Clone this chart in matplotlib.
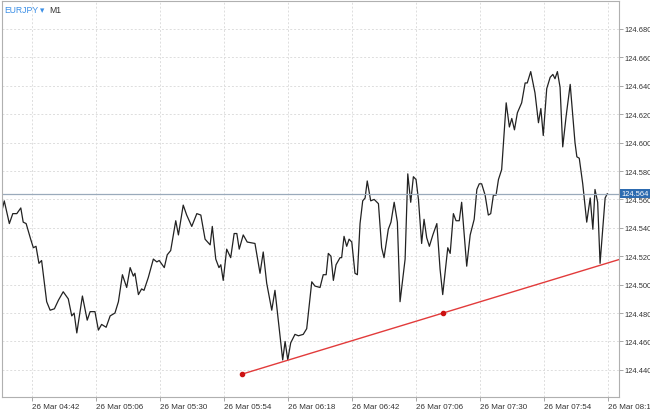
import matplotlib
matplotlib.use("Agg")
import matplotlib.pyplot as plt

plt.rcParams['font.family'] = ['Liberation Sans', 'DejaVu Sans']

# time in minutes since 00:00 on 26 Mar
times = [270.6,271.6,273.5,274.8,276.3,277.8,278.7,279.8,281.5,282.5,283.5,284.6,285.6,287.5,288.8,290.4,291.9,293.7,295.6,296.9,297.8,298.8,300.9,302.7,303.8,305.6,306.9,308.1,309.8,311.3,313.1,314.4,315.9,317.5,318.8,320.0,320.6,321.9,323.1,324.0,325.6,327.5,328.8,329.7,
         331.6,332.7,334.0,335.9,336.9,338.7,340.0,341.9,343.8,345.3,346.9,348.8,349.6,350.9,352.1,352.8,353.7,355.0,356.5,357.8,358.8,359.7,361.2,362.7,365.6,367.5,368.7,370.0,371.9,373.1,374.4,376.0,376.9,377.9,379.0,380.6,381.9,383.7,385.0,386.9,388.1,390.0,
         391.2,392.3,393.1,394.1,395.0,396.0,397.5,398.1,399.0,400.0,400.9,401.9,403.1,404.0,405.0,406.0,406.9,407.7,409.0,410.3,411.9,413.1,414.0,415.6,416.6,417.8,419.0,420.0,421.9,422.9,424.0,425.0,426.0,426.9,428.1,429.0,430.0,431.0,432.3,433.8,435.0,436.0,437.9,438.8,440.0,441.0,442.2,443.1,445.0,446.3,447.8,448.8,449.7,
         450.6,451.9,453.1,454.0,455.0,456.0,456.9,458.1,459.8,461.0,461.9,462.9,464.0,465.6,466.9,467.7,469.0,470.6,471.9,472.8,473.7,475.0,476.3,477.3,478.1,479.0,480.0,481.0,482.3,483.8,485.6,486.3,487.2,488.5,490.0,491.3,492.3,493.1,494.1,495.0,496.9,497.7]
prices = [124.551,124.559,124.543,124.550,124.550,124.554,124.544,124.543,124.532,124.526,124.527,124.515,124.517,124.488,124.482,124.483,124.489,124.495,124.490,124.478,124.480,124.466,124.492,124.475,124.481,124.481,124.468,124.472,124.470,124.478,124.480,124.488,124.507,124.498,124.512,124.506,124.508,124.493,124.497,124.496,124.505,124.518,124.516,124.517,
          124.512,124.521,124.524,124.545,124.535,124.556,124.549,124.541,124.550,124.549,124.532,124.528,124.541,124.518,124.512,124.514,124.503,124.525,124.519,124.536,124.536,124.525,124.535,124.530,124.529,124.508,124.523,124.501,124.482,124.496,124.474,124.447,124.460,124.447,124.459,124.465,124.464,124.465,124.469,124.502,124.499,124.498,
          124.507,124.507,124.522,124.520,124.503,124.514,124.519,124.519,124.534,124.527,124.532,124.530,124.508,124.507,124.543,124.559,124.561,124.573,124.559,124.560,124.557,124.526,124.519,124.539,124.544,124.558,124.544,124.488,124.518,124.578,124.558,124.576,124.574,124.560,124.529,124.546,124.533,124.527,124.535,124.543,124.511,124.493,124.526,124.522,124.550,124.545,124.545,124.558,124.513,124.535,124.546,124.567,124.571,
          124.571,124.563,124.549,124.550,124.563,124.563,124.574,124.581,124.628,124.611,124.617,124.609,124.621,124.628,124.642,124.642,124.650,124.635,124.614,124.624,124.605,124.638,124.646,124.648,124.645,124.650,124.639,124.597,124.619,124.641,124.600,124.590,124.589,124.571,124.544,124.561,124.539,124.567,124.558,124.515,124.561,124.564]

last_price = 124.564
trend_times = [360.75, 436.1]
trend_prices = [124.437, 124.480]
xtick_minutes = [282, 306, 330, 354, 378, 402, 426, 450, 474, 498]
xtick_labels = ["26 Mar 04:42", "26 Mar 05:06", "26 Mar 05:30", "26 Mar 05:54", "26 Mar 06:18",
                "26 Mar 06:42", "26 Mar 07:06", "26 Mar 07:30", "26 Mar 07:54", "26 Mar 08:18"]
ytick_values = [124.44, 124.46, 124.48, 124.50, 124.52, 124.54, 124.56, 124.58, 124.60, 124.62, 124.64, 124.66, 124.68]

W, H = 650, 410
fig = plt.figure(figsize=(6.5, 4.1), dpi=100)
ax = fig.add_axes([2/W, 12/H, 617/W, 396/H])
xmin, xmax = 270.75, 502.1
ax.set_xlim(xmin, xmax)
ax.set_ylim(124.4209, 124.6997)

ax.grid(True, color="#dddddd", linestyle=(0, (2, 2)), linewidth=0.7)
ax.set_axisbelow(True)
for s in ax.spines.values():
    s.set_color("#b0b0b0")
    s.set_linewidth(0.8)

ax.plot(times, prices, color="#222222", linewidth=0.9)
ax.axhline(last_price, color="#9aaabb", linewidth=0.9)

slope = (trend_prices[1] - trend_prices[0]) / (trend_times[1] - trend_times[0])
ax.plot([trend_times[0], xmax], [trend_prices[0], trend_prices[0] + slope * (xmax - trend_times[0])],
        color="#e23b3b", linewidth=1.0)
ax.plot(trend_times, trend_prices, "o", color="#cc1111", markersize=3)

ax.yaxis.tick_right()
ax.set_yticks(ytick_values)
ax.set_yticklabels([f"{v:.3f}" for v in ytick_values])
ax.set_xticks(xtick_minutes)
ax.set_xticklabels(xtick_labels, ha="left")
ax.tick_params(axis="x", labelsize=5.8, colors="#999999", labelcolor="#333333",
               length=3, width=0.6, pad=1)
ax.tick_params(axis="y", labelsize=5.4, colors="#999999", labelcolor="#333333",
               length=3, width=0.6, pad=1)

hy = 0.972
ax.text(0.003, hy, "EURJPY", transform=ax.transAxes, fontsize=6.2, color="#3a8ee6", va="baseline", ha="left")
ax.text(0.062, hy, "▾", transform=ax.transAxes, fontsize=6.2, color="#3a8ee6", va="baseline", ha="left",
        family=["DejaVu Sans"])
ax.text(0.076, hy, "M1", transform=ax.transAxes, fontsize=6.2, color="#333333", va="baseline", ha="left")

ax.text(1.004, last_price, f"{last_price:.3f}", transform=ax.get_yaxis_transform(), fontsize=5.4,
        color="white", va="center", ha="left",
        bbox=dict(boxstyle="square,pad=0.15", facecolor="#2d6bb0", edgecolor="none"))

fig.savefig("out.png", dpi=100, facecolor="white")
